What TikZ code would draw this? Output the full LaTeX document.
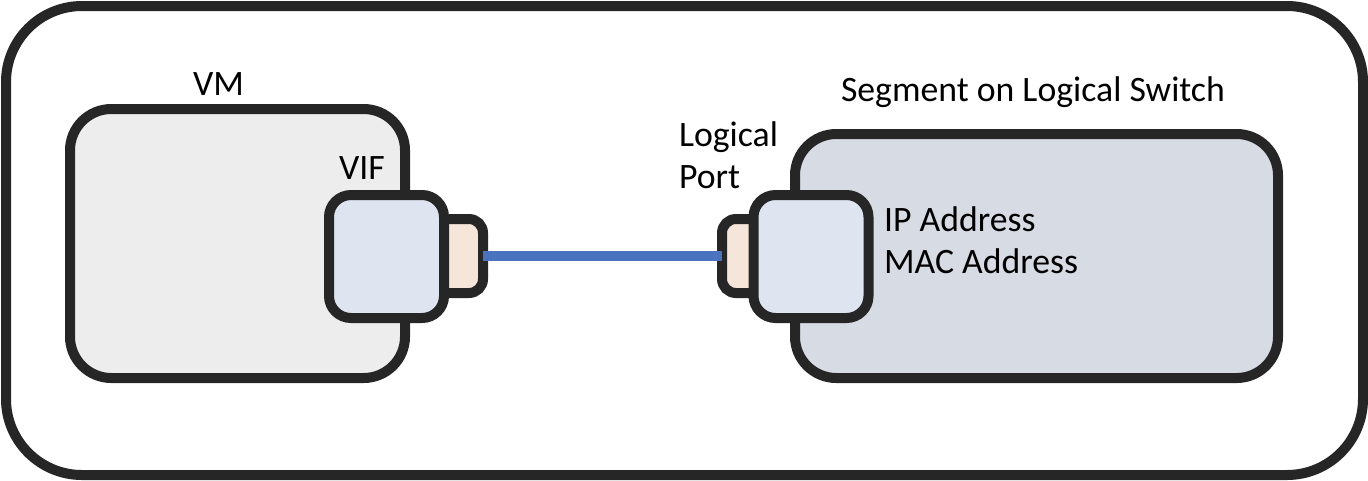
\documentclass[tikz,border=0pt]{standalone}
\usepackage{fontspec}
\setmainfont{Carlito}
\definecolor{edge}{HTML}{262626}
\definecolor{vmfill}{HTML}{EDEDED}
\definecolor{swfill}{HTML}{D7DBE4}
\definecolor{ifill}{HTML}{DEE4F0}
\definecolor{pfill}{HTML}{F6E6DA}
\definecolor{wire}{HTML}{4A72BF}
\tikzset{
  box/.style={draw=edge,line width=7.5pt,outer sep=0pt,inner sep=0pt},
  outerbox/.style={box,rounded corners=57pt,minimum width=1017.75pt,minimum height=351.75pt},
  hostbox/.style={box,rounded corners=31pt},
  ifbox/.style={box,fill=ifill,rounded corners=16.5pt,minimum width=86.25pt,minimum height=92.25pt},
  portbox/.style={box,fill=pfill,rounded corners=10.5pt,minimum width=45pt,minimum height=55.5pt},
  label/.style={font=\fontsize{26.8pt}{31pt}\selectfont,text=black,inner sep=0pt,outer sep=0pt},
  wireline/.style={draw=wire,line width=7.5pt}
}
\begin{document}
\begin{tikzpicture}[x=0.75pt,y=-0.75pt]
\useasboundingbox (0,0) rectangle (1368,480);
\node[outerbox] (frame) at (684.5,240.5) {};
\node[hostbox,fill=vmfill,minimum width=251.25pt,minimum height=201.75pt] (vm) at (237.5,243.5) {};
\node[hostbox,fill=swfill,minimum width=362.25pt,minimum height=183pt] (switch) at (1036.5,256) {};
\node[portbox] (portL) at (453,256) {};
\node[portbox] (portR) at (752,256) {};
\node[ifbox] (vif) at (386.5,256.5) {};
\node[ifbox] (lport) at (811,256.5) {};
\draw[wireline] (portL.east) -- (portR.west);
\node[label,anchor=base west] (tvm) at (193,95) {VM};
\node[label,anchor=base west] (tvif) at (339,179) {VIF};
\node[label,anchor=base west] (tseg) at (841,101) {Segment on Logical Switch};
\node[label,anchor=base west] (tlog) at (679,146) {Logical};
\node[label,anchor=base west] (tport) at (679,188) {Port};
\node[label,anchor=base west] (tip) at (884,231) {IP Address};
\node[label,anchor=base west] (tmac) at (884,273) {MAC Address};
\end{tikzpicture}
\end{document}
